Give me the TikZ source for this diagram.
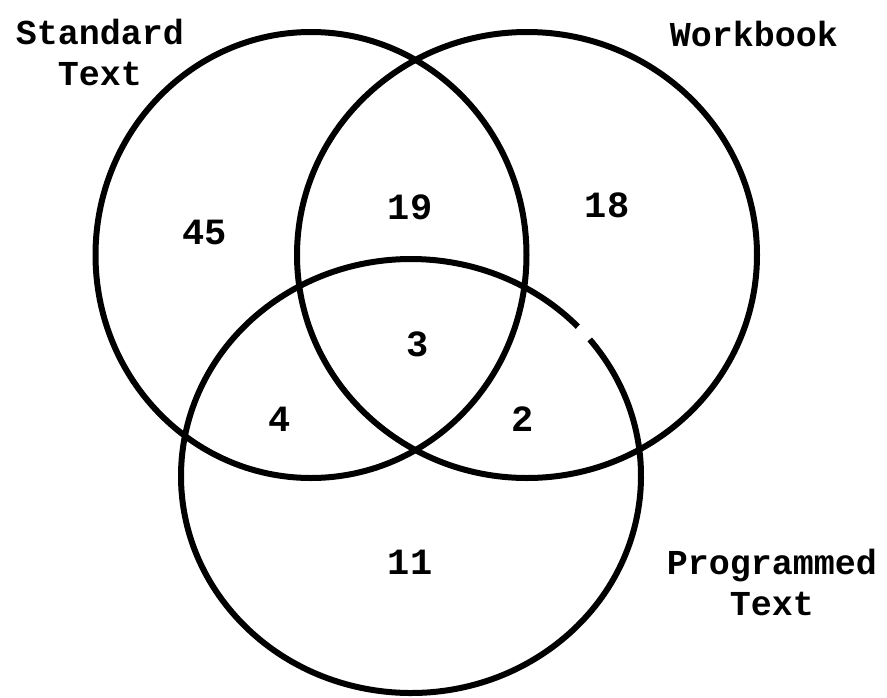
\documentclass[tikz,border=0pt]{standalone}
\usepackage{fontspec}
\newfontfamily\venntt{Liberation Mono}
\tikzset{
  vennline/.style={line width=6pt},
  setlabel/.style={font=\venntt\bfseries\fontsize{35}{41}\selectfont, align=center, inner sep=0pt},
  count/.style={font=\venntt\bfseries\fontsize{37}{40}\selectfont, inner sep=0pt}
}

\begin{document}
\begin{tikzpicture}[x=1pt, y=-1pt]
  % 0. page
  \useasboundingbox (0,0) rectangle (887,697);

  % 1. centres of the three sets
  \coordinate (S) at (311,255);
  \coordinate (W) at (527,255);
  \coordinate (P) at (411,476);

  % 2. the three sets (small break in the lower one)
  \draw[vennline] (S) ellipse [x radius=215.5, y radius=223];
  \draw[vennline] (W) ellipse [x radius=230, y radius=223];
  \draw[vennline] (P) ++(-39:230 and 217)
    arc[start angle=-39, end angle=316.5, x radius=230, y radius=217];

  % 3. names of the sets
  \node[setlabel] (standard) at (100,52) {Standard\\Text};
  \node[setlabel] (workbook) at (754,34) {Workbook};
  \node[setlabel] (programmed) at (772,582) {Programmed\\Text};

  % 4. counts in each region
  \node[count] (nS) at (205,232) {45};
  \node[count] (nSW) at (410,207) {19};
  \node[count] (nW) at (607,205) {18};
  \node[count] (nSWP) at (418,344) {3};
  \node[count] (nSP) at (280,419) {4};
  \node[count] (nWP) at (523,419) {2};
  \node[count] (nP) at (410,562) {11};
\end{tikzpicture}
\end{document}
